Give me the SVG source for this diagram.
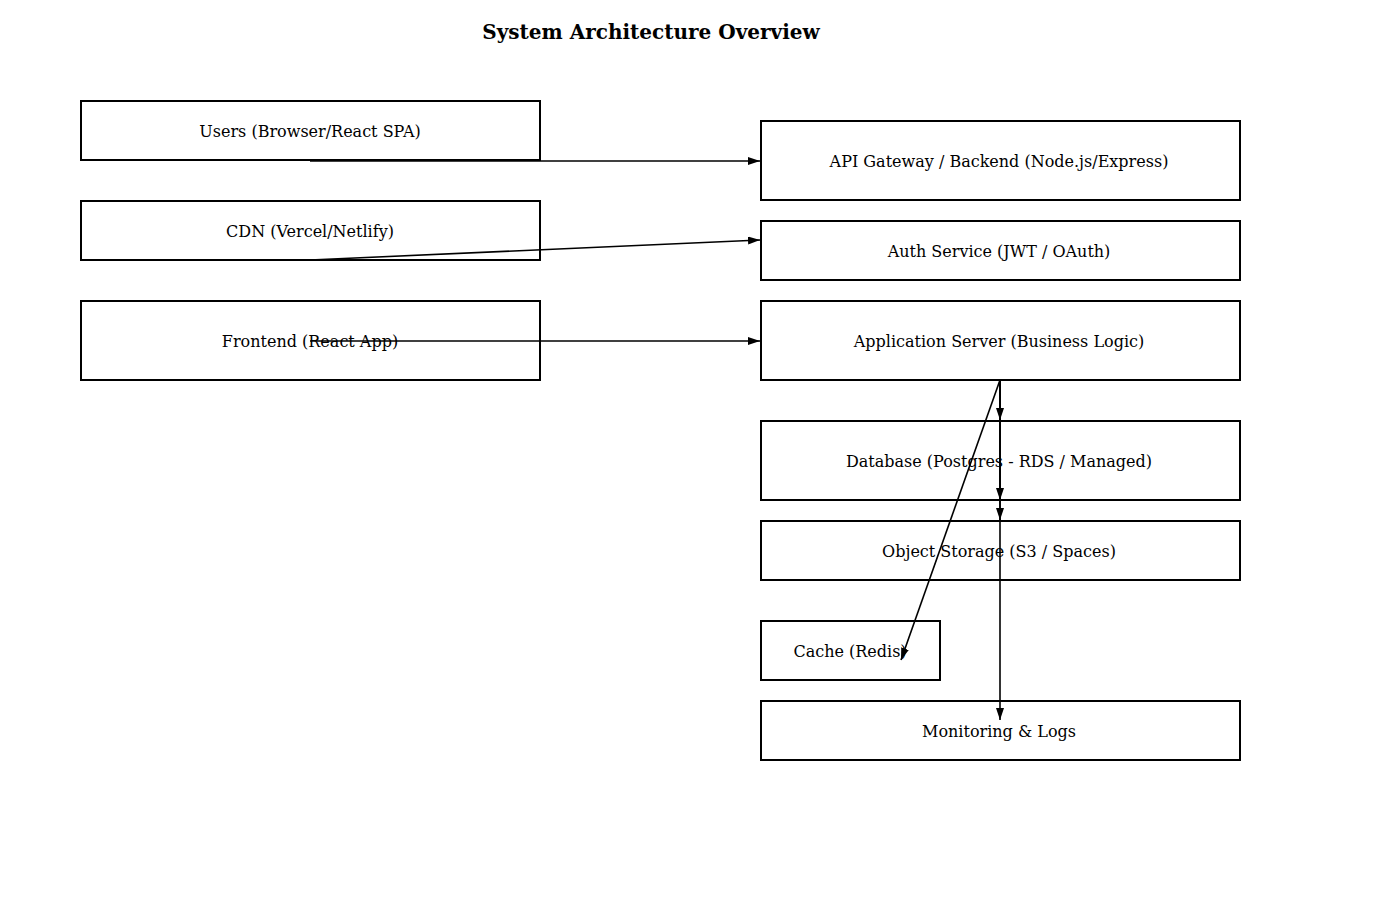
<svg xmlns="http://www.w3.org/2000/svg" width="1400" height="900" viewBox="0 0 1400 900">
<style>
.box{fill:#fff;stroke:#000;stroke-width:2}
.lbl{font-family:"DejaVu Serif",serif;font-size:16px;fill:#000;text-anchor:middle;dominant-baseline:central}
.title{font-family:"DejaVu Serif",serif;font-size:20px;font-weight:bold;fill:#000;text-anchor:middle}
.edge{stroke:#000;stroke-width:1.6;fill:none;marker-end:url(#arr)}
</style>
<defs>
<marker id="arr" viewBox="0 0 12 8" refX="12" refY="4" markerWidth="12" markerHeight="8" markerUnits="userSpaceOnUse" orient="auto">
<path d="M0,0 L12,4 L0,8 z" fill="#000"/>
</marker>
</defs>
<rect width="1400" height="900" fill="#fff"/>
<text class="title" x="651" y="39">System Architecture Overview</text>
<g id="users"><rect class="box" x="81" y="101" width="459" height="59"/><text class="lbl" x="310" y="131">Users (Browser/React SPA)</text></g>
<g id="cdn"><rect class="box" x="81" y="201" width="459" height="59"/><text class="lbl" x="310" y="231">CDN (Vercel/Netlify)</text></g>
<g id="frontend"><rect class="box" x="81" y="301" width="459" height="79"/><text class="lbl" x="310" y="341">Frontend (React App)</text></g>
<g id="api"><rect class="box" x="761" y="121" width="479" height="79"/><text class="lbl" x="999" y="161">API Gateway / Backend (Node.js/Express)</text></g>
<g id="auth"><rect class="box" x="761" y="221" width="479" height="59"/><text class="lbl" x="999" y="251">Auth Service (JWT / OAuth)</text></g>
<g id="app"><rect class="box" x="761" y="301" width="479" height="79"/><text class="lbl" x="999" y="341">Application Server (Business Logic)</text></g>
<g id="db"><rect class="box" x="761" y="421" width="479" height="79"/><text class="lbl" x="999" y="461">Database (Postgres - RDS / Managed)</text></g>
<g id="storage"><rect class="box" x="761" y="521" width="479" height="59"/><text class="lbl" x="999" y="551">Object Storage (S3 / Spaces)</text></g>
<g id="cache"><rect class="box" x="761" y="621" width="179" height="59"/><text class="lbl" x="850" y="651">Cache (Redis)</text></g>
<g id="monitoring"><rect class="box" x="761" y="701" width="479" height="59"/><text class="lbl" x="999" y="731">Monitoring &amp; Logs</text></g>
<g id="connectors">
<path class="edge" d="M310,161 L760,161"/>
<path class="edge" d="M310,260 L760,240"/>
<path class="edge" d="M310,341 L760,341"/>
<path class="edge" d="M1000,380 L1000,420"/>
<path class="edge" d="M1000,380 L1000,500"/>
<path class="edge" d="M1000,380 L1000,520"/>
<path class="edge" d="M1000,380 L1000,720"/>
<path class="edge" d="M1000,380 L901,660"/>
</g>
</svg>
